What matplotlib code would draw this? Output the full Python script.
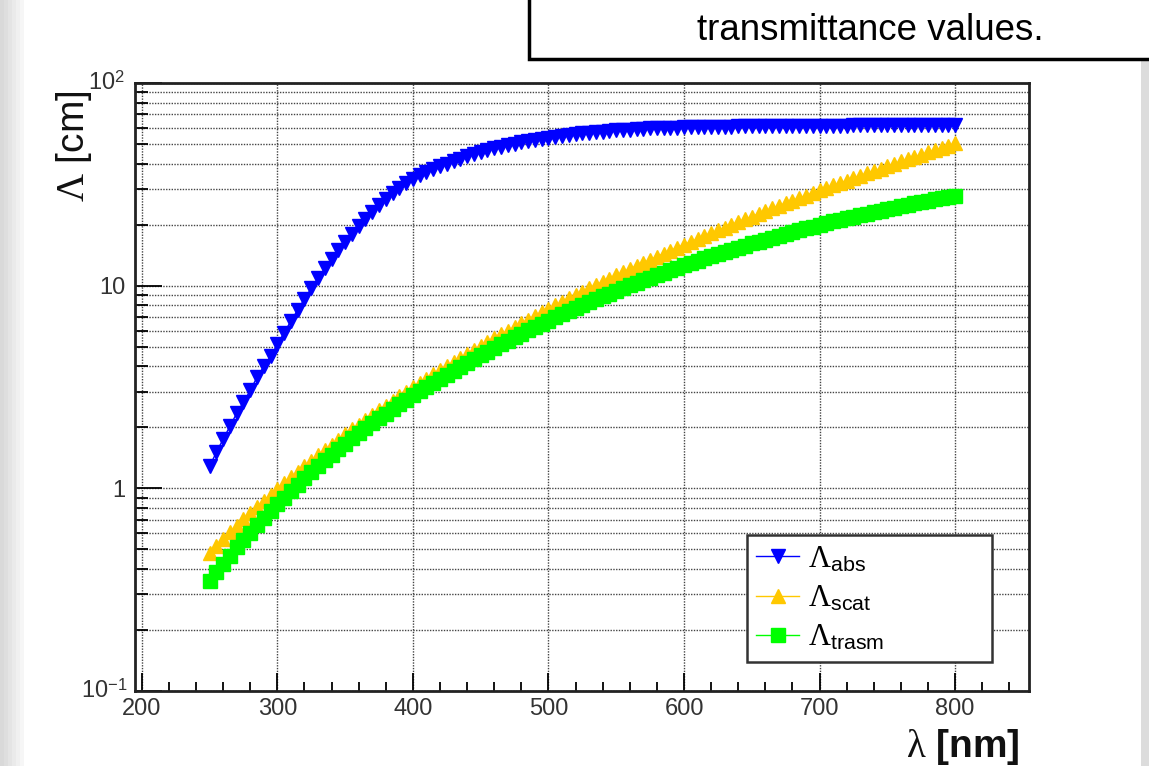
import matplotlib
matplotlib.use("Agg")
import matplotlib.pyplot as plt
from matplotlib.patches import Rectangle

plt.rcParams['font.family'] = ['Liberation Sans', 'DejaVu Sans']
plt.rcParams['mathtext.fontset'] = 'custom'
plt.rcParams['mathtext.rm'] = 'Liberation Serif'
plt.rcParams['mathtext.it'] = 'Liberation Serif:italic'
plt.rcParams['mathtext.sf'] = 'Liberation Sans'
plt.rcParams['mathtext.bf'] = 'Liberation Sans:bold'

# lunghezze d'onda (nm), un punto ogni 5 nm
wavelength = list(range(250, 805, 5))

# lunghezza di assorbimento (cm)
lambda_abs = [
    1.282, 1.507, 1.746, 2.023, 2.344, 2.661, 3.041, 3.532, 3.999, 4.477,
    5.129, 5.861, 6.683, 7.586, 8.590, 9.705, 10.89, 12.16, 13.52, 14.96,
    16.48, 18.07, 19.72, 21.43, 23.17, 24.95, 26.73, 28.51, 30.27, 31.99,
    33.65, 35.32, 36.48, 37.76, 38.90, 39.99, 41.11, 42.27, 43.45, 44.57,
    45.60, 46.56, 47.53, 48.53, 49.43, 50.23, 51.05, 51.76, 52.48, 53.09,
    53.70, 54.33, 54.83, 55.34, 55.85, 56.36, 56.75, 57.15, 57.54, 57.94,
    58.34, 58.61, 58.88, 59.16, 59.43, 59.70, 59.84, 59.98, 60.12, 60.26,
    60.39, 60.5, 60.6, 60.7, 60.8, 60.9, 61.0, 61.0, 61.1, 61.1,
    61.2, 61.2, 61.3, 61.3, 61.4, 61.4, 61.5, 61.5, 61.5, 61.6,
    61.6, 61.6, 61.7, 61.7, 61.7, 61.8, 61.8, 61.8, 61.8, 61.9,
    61.9, 61.9, 61.9, 62.0, 62.0, 62.0, 62.0, 62.0, 62.1, 62.1,
    62.1,
]

# lunghezza di scattering (cm)
lambda_scat = [
    0.480, 0.520, 0.562, 0.606, 0.653, 0.703, 0.755, 0.811, 0.869, 0.931,
    0.995, 1.063, 1.135, 1.210, 1.289, 1.371, 1.457, 1.548, 1.642, 1.741,
    1.844, 1.952, 2.064, 2.181, 2.303, 2.430, 2.562, 2.700, 2.843, 2.991,
    3.146, 3.306, 3.472, 3.645, 3.824, 4.009, 4.201, 4.400, 4.606, 4.819,
    5.039, 5.267, 5.502, 5.745, 5.996, 6.256, 6.523, 6.799, 7.084, 7.377,
    7.680, 7.992, 8.313, 8.644, 8.984, 9.335, 9.696, 10.067, 10.449, 10.841,
    11.244, 11.659, 12.085, 12.522, 12.971, 13.432, 13.906, 14.391, 14.890, 15.401,
    15.925, 16.463, 17.014, 17.578, 18.157, 18.750, 19.357, 19.979, 20.616, 21.268,
    21.935, 22.618, 23.316, 24.031, 24.761, 25.509, 26.273, 27.055, 27.853, 28.669,
    29.503, 30.355, 31.225, 32.114, 33.022, 33.949, 34.896, 35.862, 36.848, 37.854,
    38.880, 39.926, 40.995, 42.084, 43.197, 44.329, 45.484, 46.662, 47.863, 49.087,
    50.332,
]

# lunghezza di trasmissione (cm)
lambda_trasm = [
    0.349, 0.387, 0.425, 0.466, 0.511, 0.556, 0.605, 0.660, 0.714, 0.771,
    0.833, 0.900, 0.970, 1.044, 1.121, 1.201, 1.285, 1.373, 1.464, 1.560,
    1.658, 1.762, 1.868, 1.980, 2.095, 2.214, 2.338, 2.466, 2.599, 2.735,
    2.877, 3.023, 3.170, 3.324, 3.482, 3.644, 3.811, 3.985, 4.165, 4.349,
    4.538, 4.732, 4.931, 5.137, 5.347, 5.563, 5.784, 6.010, 6.242, 6.477,
    6.719, 6.967, 7.219, 7.476, 7.739, 8.008, 8.281, 8.559, 8.843, 9.132,
    9.427, 9.725, 10.027, 10.335, 10.647, 10.965, 11.284, 11.606, 11.934, 12.266,
    12.602, 12.941, 13.284, 13.631, 13.982, 14.336, 14.694, 15.050, 15.415, 15.776,
    16.148, 16.515, 16.891, 17.263, 17.645, 18.022, 18.409, 18.789, 19.171, 19.564,
    19.949, 20.335, 20.733, 21.121, 21.510, 21.912, 22.303, 22.693, 23.084, 23.489,
    23.880, 24.271, 24.662, 25.068, 25.459, 25.848, 26.237, 26.624, 27.030, 27.416,
    27.800,
]

W, H = 1149, 766
fig = plt.figure(figsize=(W / 100, H / 100), dpi=100)
fig.patch.set_facecolor('white')

# bordi grigi della slide
for i, c in enumerate(['#d9d9d9', '#dedede', '#e4e4e4', '#eaeaea', '#f0f0f0', '#f6f6f6']):
    fig.patches.append(Rectangle((i * 4 / W, 0), 4 / W, 1, transform=fig.transFigure,
                                 facecolor=c, edgecolor='none', zorder=0))
fig.patches.append(Rectangle((1141 / W, 0), 8 / W, 1, transform=fig.transFigure,
                             facecolor='#dcdcdc', edgecolor='none', zorder=0))

ax = fig.add_axes([135 / W, (H - 691) / H, (1029 - 135) / W, (691 - 83) / H])
ax.set_yscale('log')
ax.set_xlim(195, 854.5)
ax.set_ylim(0.1, 100)

ax.plot(wavelength, lambda_abs, color='#0000ff', lw=1, marker='v', ms=9.5,
        mec='#0000ff', label=r'$\mathrm{\Lambda}_{\mathsf{abs}}$', zorder=3)
ax.plot(wavelength, lambda_scat, color='#ffc800', lw=1, marker='^', ms=10.5,
        mec='#ffc800', label=r'$\mathrm{\Lambda}_{\mathsf{scat}}$', zorder=3)
ax.plot(wavelength, lambda_trasm, color='#00ff00', lw=1, marker='s', ms=10,
        mec='#00ff00', label=r'$\mathrm{\Lambda}_{\mathsf{trasm}}$', zorder=4)

# tacche e griglia stile ROOT
ax.set_xticks(range(200, 801, 100))
ax.set_xticks(range(200, 850, 20), minor=True)
ax.set_xticklabels([str(v) for v in range(200, 801, 100)])
ax.set_yticks([0.1, 1, 10, 100])
ax.set_yticklabels(['', '1', '10', ''])
ax.tick_params(axis='x', which='major', direction='in', length=13, width=1.3,
               labelsize=17, pad=5)
ax.tick_params(axis='x', which='minor', direction='in', length=6.5, width=1.3)
ax.tick_params(axis='y', which='major', direction='in', length=19.5, width=1.3,
               labelsize=17, pad=7)
ax.tick_params(axis='y', which='minor', direction='in', length=9.5, width=1.3,
               labelleft=False)
ax.yaxis.set_minor_formatter(plt.NullFormatter())
for lab in ax.get_xticklabels() + ax.get_yticklabels():
    lab.set_color('#333333')

ax.grid(True, axis='x', which='major', color='#444444', lw=1, ls=(0, (1, 1)))
ax.grid(True, axis='y', which='both', color='#444444', lw=1, ls=(0, (1, 1)))
ax.set_axisbelow(True)
for sp in ax.spines.values():
    sp.set_linewidth(2)
    sp.set_color('#222222')

# etichette 10^2 e 10^-1 spostate come in ROOT
ax.text(-0.011, 100, r'$\mathsf{10}^{\mathsf{2}}$', transform=ax.get_yaxis_transform(),
        ha='right', va='center', fontsize=17, color='#333333')
ax.text(-0.008, 0.1, r'$\mathsf{10}^{\mathsf{-1}}$', transform=ax.get_yaxis_transform(),
        ha='right', va='center', fontsize=17, color='#333333')

fig.text(74 / W, 1 - 90 / H, r'$\mathrm{\Lambda}$ [cm]', rotation=90, ha='center',
         va='top', fontsize=28, color='#111111')
fig.text(1020 / W, 1 - 757 / H, r'$\mathrm{\lambda}$ [nm]', ha='right', va='baseline',
         fontsize=28, fontweight='bold', color='#111111')

leg = ax.legend(loc='upper left', bbox_to_anchor=(747 / W, 1 - 651 / H, 245 / W, 116 / H),
                bbox_transform=fig.transFigure, mode='expand', borderaxespad=0,
                fancybox=False, edgecolor='#333333', fontsize=22, handlelength=1.4,
                labelspacing=0.3, borderpad=0.3, handletextpad=0.3, framealpha=1)
leg.get_frame().set_linewidth(1.8)

# riquadro di testo della slide
fig.patches.append(Rectangle((529 / W, 1 - 59 / H), 700 / W, 80 / H, transform=fig.transFigure,
                             facecolor='white', edgecolor='black', lw=2.5, zorder=5))
fig.text(870 / W, 1 - 30 / H, 'transmittance values.', ha='center', va='center',
         fontsize=26.5, color='black', zorder=6)

fig.savefig('out.png', dpi=100)
